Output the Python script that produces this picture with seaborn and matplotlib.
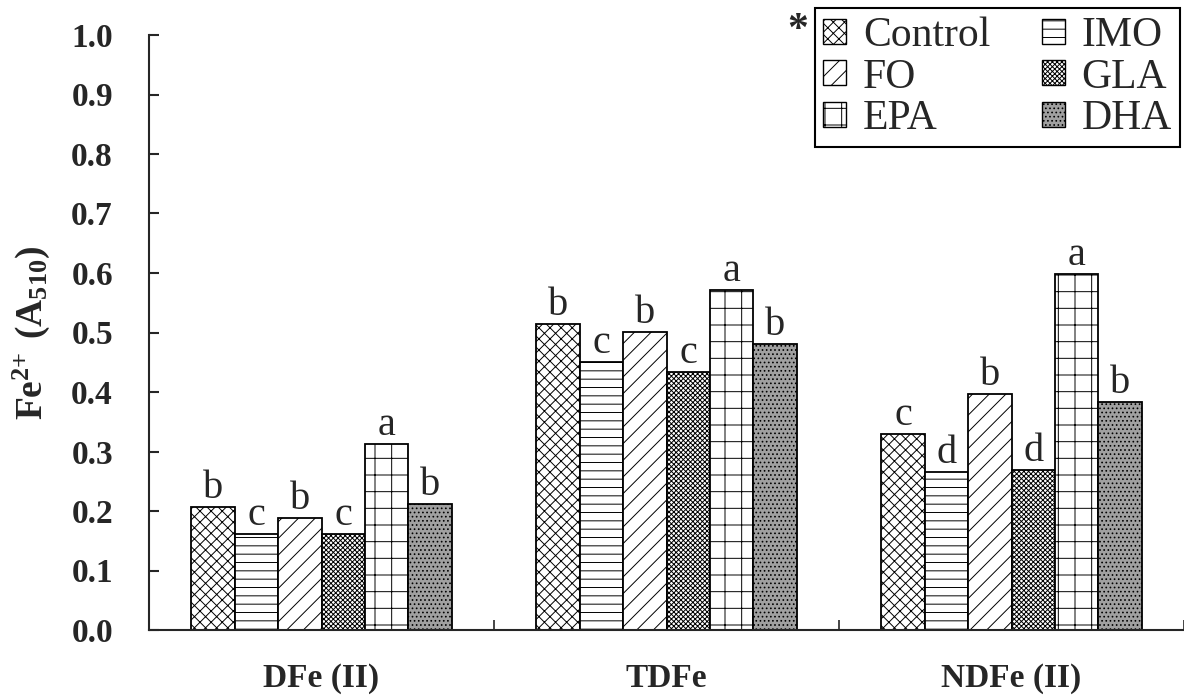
import numpy as np
import pandas as pd
import matplotlib
matplotlib.use("Agg")
import matplotlib.pyplot as plt
from matplotlib.patches import Patch
import seaborn as sns

# data
fractions = ["DFe (II)", "TDFe", "NDFe (II)"]
groups = ["Control", "IMO", "FO", "GLA", "EPA", "DHA"]

control = [0.206, 0.515, 0.330]
imo = [0.161, 0.450, 0.266]
fo = [0.189, 0.501, 0.397]
gla = [0.161, 0.434, 0.269]
epa = [0.313, 0.571, 0.598]
dha = [0.212, 0.481, 0.383]

control_sig = ["b", "b", "c"]
imo_sig = ["c", "c", "d"]
fo_sig = ["b", "b", "b"]
gla_sig = ["c", "c", "d"]
epa_sig = ["a", "a", "a"]
dha_sig = ["b", "b", "b"]

values = [control, imo, fo, gla, epa, dha]
letters = [control_sig, imo_sig, fo_sig, gla_sig, epa_sig, dha_sig]

df = pd.DataFrame({
    "fraction": np.tile(fractions, len(groups)),
    "group": np.repeat(groups, len(fractions)),
    "value": np.concatenate(values),
})

# look of each treatment
hatches = ["xxx", "--", "//", "xxxxxxx", "+", "...."]
faces = ["white", "white", "white", "white", "white", "#a0a0a0"]

sns.set_style("ticks")
plt.rcParams["font.family"] = ["Liberation Serif", "DejaVu Serif"]
plt.rcParams["hatch.linewidth"] = 0.7
plt.rcParams["mathtext.fontset"] = "custom"
plt.rcParams["mathtext.rm"] = "Liberation Serif"
plt.rcParams["mathtext.bf"] = "Liberation Serif:bold"

fig = plt.figure(figsize=(11.84, 6.96), dpi=100)
ax = fig.add_axes([149 / 1184, 66 / 696, (1184 - 149) / 1184, (630 - 35) / 696])

sns.barplot(data=df, x="fraction", y="value", hue="group",
            order=fractions, hue_order=groups, palette=["white"] * 6,
            width=0.754, edgecolor="black", linewidth=1.3,
            legend=False, ax=ax)

for cont, h, fc, sig in zip(ax.containers, hatches, faces, letters):
    for bar, s in zip(cont, sig):
        bar.set_hatch(h)
        bar.set_facecolor(fc)
        ax.annotate(s, (bar.get_x() + bar.get_width() / 2, bar.get_height()),
                    xytext=(0, 6.5), textcoords="offset points",
                    ha="center", va="baseline", fontsize=29)

ax.set_xlim(-0.5, 2.5)
ax.set_ylim(0, 1.0)
ax.set_yticks(np.arange(0, 1.01, 0.1))
ax.set_yticklabels([f"{v:.1f}" for v in np.arange(0, 1.01, 0.1)],
                   fontsize=24, fontweight="bold")
ax.set_xticklabels(fractions, fontsize=24, fontweight="bold")
ax.set_xticks([-0.5, 0.5, 1.5, 2.5], minor=True)
ax.tick_params(axis="y", direction="in", length=7.5, width=1.5, pad=26)
ax.tick_params(axis="x", which="major", length=0, pad=24)
ax.tick_params(axis="x", which="minor", direction="in", length=7.5, width=1.2)
ax.set_xlabel("")
ax.set_ylabel(r"$\mathbf{Fe^{2{+}}\ (A_{510})}$", fontsize=27)
ax.yaxis.set_label_coords(-0.094, 0.50)

sns.despine(ax=ax)
for side in ["left", "bottom"]:
    ax.spines[side].set_linewidth(1.5)

handles = [Patch(facecolor=faces[i], edgecolor="black", hatch=hatches[i],
                 linewidth=1.0, label=groups[i])
           for i in [0, 2, 4, 1, 3, 5]]
leg = ax.legend(handles=handles, ncol=2, loc="upper left", mode="expand",
                bbox_to_anchor=(815 / 1184, 1 - 8 / 696, 365 / 1184, 0),
                bbox_transform=fig.transFigure, borderaxespad=0,
                fontsize=30, handlelength=0.55, handleheight=0.55,
                handletextpad=0.4, columnspacing=0.4, labelspacing=0.08,
                borderpad=0.2, fancybox=False, framealpha=1)
leg.get_frame().set_edgecolor("black")
leg.get_frame().set_linewidth(1.5)

fig.text(798 / 1184, 1 - 31 / 696, "*", fontsize=30, fontweight="bold",
         ha="center", va="center")

fig.savefig("out.png", dpi=100)
